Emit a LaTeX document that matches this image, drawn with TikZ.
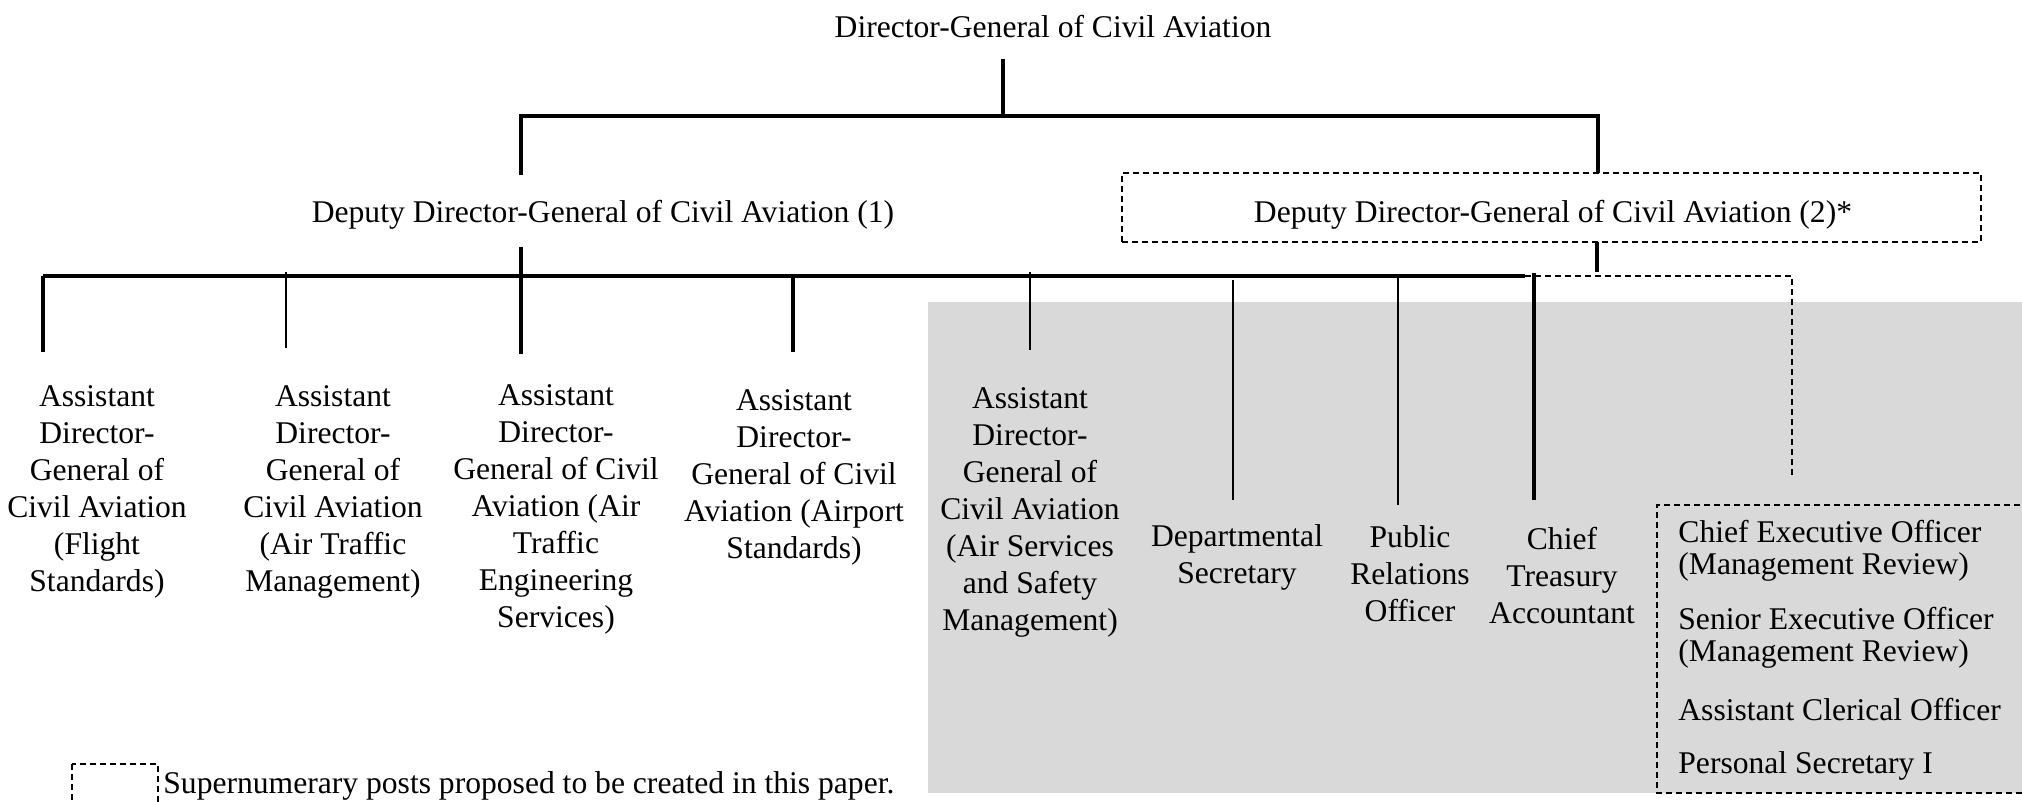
\documentclass[tikz,border=0pt]{standalone}
\usepackage{fontspec}
\setmainfont{Liberation Serif}
\definecolor{paneGrey}{HTML}{D9D9D9}
\begin{document}
\begin{tikzpicture}[x=0.5pt,y=-0.5pt,
  every node/.style={inner sep=0pt,font=\fontsize{15.8}{18.5}\selectfont},
  post/.style={align=center},
  sublist/.style={align=left,anchor=west,font=\fontsize{15.8}{16}\selectfont},
  link/.style={line width=1.6pt},
  thinlink/.style={line width=1.1pt},
  newlink/.style={line width=0.8pt,dash pattern=on 3pt off 2pt},
  newbox/.style={draw,line width=0.8pt,dash pattern=on 3pt off 2pt}]
\clip (0,0) rectangle (2022,802);
% shaded area
\fill[paneGrey] (928,302) rectangle (2022,793);

% senior posts
\node (dg) at (1053,27) {Director-General of Civil Aviation};
\node (ddg1) at (603,215) {Deputy Director-General of Civil Aviation (1)};
\node[newbox,minimum width=429.5pt,minimum height=34.5pt] (ddg2box) at (1551.5,207.5) {};
\node (ddg2) at (1553,215) {Deputy Director-General of Civil Aviation (2)*};

% junctions
\coordinate (dgdown) at (1003,59);
\coordinate (dgbar) at (1003,116);
\coordinate (barL) at (521,116);
\coordinate (barR) at (1598,116);
\coordinate (d1top) at (521,175);
\coordinate (d2top) at (1598,173);
\coordinate (d1down) at (521,247);
\coordinate (d1bar) at (521,276);
\coordinate (rowL) at (43,276);
\coordinate (rowR) at (1525,276);
\coordinate (d2down) at (1597,242);
\coordinate (d2bar) at (1597,272);
\coordinate (dashL) at (1495,276);
\coordinate (dashR) at (1792,276);
\coordinate (dashEnd) at (1792,478);

\draw[link] (dgdown) -- (dgbar);
\draw[link] (d1top) -- (barL) -- (barR) -- (d2top);
\draw[link] (d1down) -- (d1bar);
\draw[link] (rowL) -- (rowR);
\draw[link] (d2down) -- (d2bar);
\draw[newlink] (dashL) -- (dashR) -- (dashEnd);

% posts under the deputies
\node[post] (a1) at (97,492) {Assistant\\Director-\\General of\\Civil Aviation\\(Flight\\Standards)};
\node[post] (a2) at (333,492) {Assistant\\Director-\\General of\\Civil Aviation\\(Air Traffic\\Management)};
\node[post] (a3) at (556,509) {Assistant\\Director-\\General of Civil\\Aviation (Air\\Traffic\\Engineering\\Services)};
\node[post] (a4) at (794,477) {Assistant\\Director-\\General of Civil\\Aviation (Airport\\Standards)};
\node[post] (a5) at (1030,512) {Assistant\\Director-\\General of\\Civil Aviation\\(Air Services\\and Safety\\Management)};
\node[post] (ds) at (1237,557) {Departmental\\Secretary};
\node[post] (pr) at (1410,574) {Public\\Relations\\Officer};
\node[post] (ct) at (1562,576) {Chief\\Treasury\\Accountant};

\coordinate (a1t) at (43,276);   \coordinate (a1b) at (43,352);
\coordinate (a2t) at (286,272);  \coordinate (a2b) at (286,348);
\coordinate (a3t) at (521,276);  \coordinate (a3b) at (521,354);
\coordinate (a4t) at (793,276);  \coordinate (a4b) at (793,352);
\coordinate (a5t) at (1030,272); \coordinate (a5b) at (1030,350);
\coordinate (dst) at (1233,280); \coordinate (dsb) at (1233,500);
\coordinate (prt) at (1398,276); \coordinate (prb) at (1398,505);
\coordinate (ctt) at (1534,273); \coordinate (ctb) at (1534,500);

\draw[link] (a1t) -- (a1b);
\draw[thinlink] (a2t) -- (a2b);
\draw[link] (a3t) -- (a3b);
\draw[link] (a4t) -- (a4b);
\draw[thinlink] (a5t) -- (a5b);
\draw[thinlink] (dst) -- (dsb);
\draw[thinlink] (prt) -- (prb);
\draw[link] (ctt) -- (ctb);

% supporting staff of the new deputy
\draw[newbox] (2040,505) -- (1657,505) -- (1657,793) -- (2040,793);
\node[sublist] (s1) at (1678,551) {Chief Executive Officer\\(Management Review)};
\node[sublist] (s2) at (1678,638) {Senior Executive Officer\\(Management Review)};
\node[sublist] (s3) at (1678,710) {Assistant Clerical Officer};
\node[sublist] (s4) at (1678,766) {Personal Secretary I};

% legend
\draw[newbox] (72,764) rectangle (158,820);
\node[anchor=west] (legend) at (163,786) {Supernumerary posts proposed to be created in this paper.};
\end{tikzpicture}
\end{document}
